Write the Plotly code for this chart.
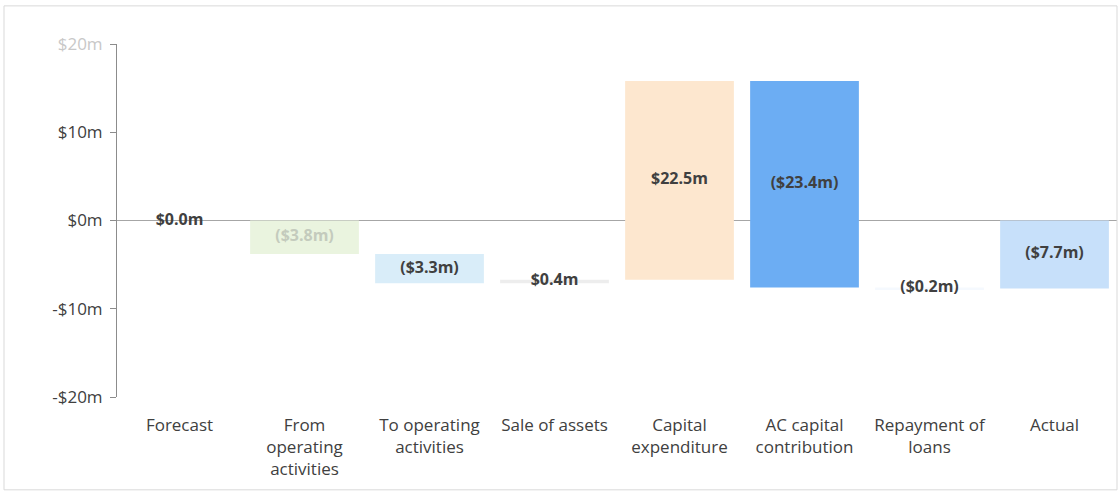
import plotly.graph_objects as go

categories = [
    "Forecast",
    "From<br>operating<br>activities",
    "To operating<br>activities",
    "Sale of assets",
    "Capital<br>expenditure",
    "AC capital<br>contribution",
    "Repayment of<br>loans",
    "Actual",
]
# movements in $m; first and last are totals measured from zero
changes = [0.0, -3.8, -3.3, 0.4, 22.5, -23.4, -0.2, -7.7]
is_total = [True, False, False, False, False, False, False, True]
labels = ["$0.0m", "($3.8m)", "($3.3m)", "$0.4m", "$22.5m", "($23.4m)", "($0.2m)", "($7.7m)"]
bar_colors = ["#ffffff", "#eaf4df", "#d9edf9", "#ededed", "#fde7cf", "#6cadf3", "#f5f9fe", "#c7e0fa"]
label_colors = ["#404040", "#c4cbbd", "#404040", "#404040", "#404040", "#404040", "#404040", "#404040"]

tick_vals = [-20, -10, 0, 10, 20]
tick_text = ["-$20m", "-$10m", "$0m", "$10m", '<span style="color:#c8c8c8">$20m</span>']

# work out floating bar bases from running total
bases, heights, mids = [], [], []
running = 0.0
for val, tot in zip(changes, is_total):
    if tot:
        start = 0.0
        running = val
    else:
        start = running
        running = running + val
    bases.append(min(start, running))
    heights.append(abs(running - start))
    mids.append((start + running) / 2)

fig = go.Figure()
fig.add_trace(
    go.Bar(
        x=categories,
        y=heights,
        base=bases,
        marker_color=bar_colors,
        marker_line_width=0,
        hoverinfo="skip",
    )
)
fig.add_trace(
    go.Scatter(
        x=categories,
        y=mids,
        mode="text",
        text=labels,
        textposition="middle center",
        textfont=dict(family="Open Sans", size=16, color=label_colors, weight="bold"),
        hoverinfo="skip",
        cliponaxis=False,
    )
)

fig.update_layout(
    width=1120,
    height=494,
    margin=dict(l=117, r=3, t=44, b=97, autoexpand=False),
    paper_bgcolor="white",
    plot_bgcolor="white",
    showlegend=False,
    bargap=0.13,
    font=dict(family="Open Sans", size=16, color="#404040"),
)
fig.update_xaxes(
    automargin=False,
    showline=False,
    showgrid=False,
    zeroline=False,
    ticks="",
    ticklabelstandoff=16,
    tickfont=dict(size=17, color="#404040"),
)
fig.update_yaxes(
    automargin=False,
    range=[-20, 20],
    tickvals=tick_vals,
    ticktext=tick_text,
    showgrid=False,
    showline=True,
    linecolor="#8c8c8c",
    linewidth=1,
    ticks="outside",
    ticklen=6,
    tickcolor="#8c8c8c",
    ticklabelstandoff=4,
    zeroline=True,
    zerolinecolor="#a6a6a6",
    zerolinewidth=1,
    tickfont=dict(size=17, color="#404040"),
)

# light frame round the chart area
fig.add_shape(
    type="rect", xref="paper", yref="paper",
    x0=-0.113, x1=1.0, y0=-0.263, y1=1.108,
    line=dict(color="#d9d9d9", width=1),
)

# page body has an 8px default margin; drop it so the figure sits at 0,0
fig.write_html(
    "out.html",
    config={"displayModeBar": False},
    post_script="document.body.style.margin='0';",
)
